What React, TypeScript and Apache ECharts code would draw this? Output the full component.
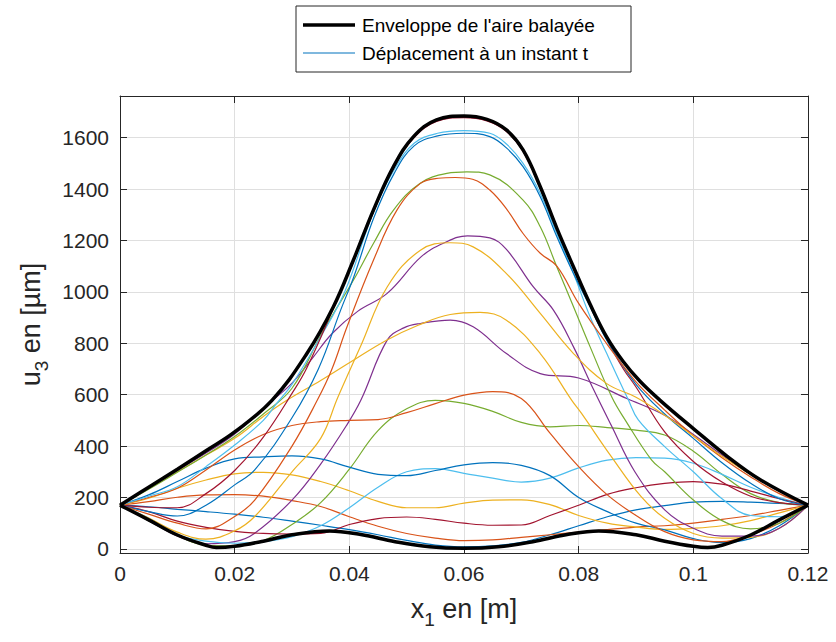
import React, { useEffect, useRef } from "react";
import * as echarts from "echarts";

// x positions (m) shared by the low-amplitude "instant" curves
const xs = [0, 0.005, 0.01, 0.015, 0.02, 0.025, 0.03, 0.035, 0.04, 0.045, 0.05, 0.055, 0.06, 0.065, 0.07, 0.075, 0.08, 0.085, 0.09, 0.095, 0.1, 0.105, 0.11, 0.115, 0.12];

// Envelope of the swept area: [x (m), u3 (µm)]
const envUpper = [[0, 170], [0.005, 240], [0.01, 310], [0.015, 382], [0.02, 455], [0.0265, 578], [0.0326, 760], [0.0372, 941], [0.0407, 1123], [0.0442, 1318], [0.0477, 1487], [0.0512, 1604], [0.0552, 1669], [0.06, 1684], [0.064, 1671], [0.0674, 1630], [0.0703, 1552], [0.0733, 1409], [0.0762, 1247], [0.0791, 1097], [0.082, 952], [0.0849, 824], [0.0878, 728], [0.0907, 652], [0.0942, 578], [0.1, 468], [0.1058, 362], [0.1116, 270], [0.12, 170]];
const envLower = [[0, 170], [0.005, 113], [0.01, 54], [0.015, 14], [0.0168, 5], [0.02, 10], [0.025, 30], [0.03, 55], [0.0365, 70], [0.042, 56], [0.048, 28], [0.054, 8], [0.06, 2], [0.066, 8], [0.072, 28], [0.078, 56], [0.0835, 70], [0.09, 55], [0.095, 30], [0.1, 10], [0.1025, 5], [0.105, 14], [0.11, 54], [0.115, 113], [0.12, 170]];

// Low-amplitude instants (values at xs, µm)
const blueLow = [170, 164, 154, 145, 135, 123, 108, 92, 75, 55, 33, 15, 8, 12, 25, 55, 90, 125, 152, 168, 182, 185, 182, 177, 170];
const orangeLow = [170, 184, 201, 210, 211, 205, 188, 165, 125, 88, 60, 42, 32, 35, 45, 55, 65, 75, 85, 90, 100, 115, 130, 150, 170];
const yellowLow = [170, 197, 236, 268, 292, 298, 288, 262, 226, 185, 160, 160, 178, 190, 191, 172, 130, 100, 85, 76, 80, 90, 110, 140, 170];
const greenMid = [170, 110, 52, 14, 12, 32, 95, 180, 310, 460, 545, 578, 566, 535, 492, 475, 480, 472, 462, 443, 380, 290, 215, 180, 170];
const cyanLow = [170, 120, 55, 30, 22, 28, 48, 90, 160, 240, 300, 312, 294, 275, 260, 275, 315, 345, 355, 353, 333, 290, 240, 200, 170];
const redLow = [170, 145, 108, 84, 68, 60, 58, 60, 95, 118, 124, 115, 100, 92, 93, 130, 170, 212, 238, 255, 262, 252, 225, 195, 170];
const blueMid = [170, 210, 262, 314, 350, 358, 362, 350, 318, 290, 285, 305, 327, 336, 325, 285, 200, 145, 100, 74, 40, 24, 40, 90, 170];
const orangeMid = [170, 200, 236, 307, 385, 445, 480, 495, 500, 503, 530, 565, 598, 612, 585, 450, 320, 210, 130, 67, 35, 28, 55, 100, 170];

// Large-amplitude instants: [x (m), u3 (µm)]
const purpleMid = [[0, 170], [0.005, 110], [0.01, 50], [0.015, 20], [0.02, 28], [0.0235, 61], [0.03, 190], [0.035, 330], [0.0395, 480], [0.042, 578], [0.0466, 812], [0.0495, 860], [0.0524, 877], [0.0576, 890], [0.0616, 864], [0.0674, 760], [0.0733, 682], [0.08, 665], [0.0884, 585], [0.095, 520], [0.1, 445], [0.105, 365], [0.11, 290], [0.115, 225], [0.12, 170]];
const yellowMid = [[0, 170], [0.005, 235], [0.01, 300], [0.015, 365], [0.02, 430], [0.025, 515], [0.0291, 578], [0.035, 655], [0.0407, 734], [0.0465, 812], [0.052, 870], [0.0576, 912], [0.0628, 920], [0.0674, 890], [0.0733, 760], [0.0788, 578], [0.0805, 527], [0.0857, 359], [0.0909, 203], [0.095, 119], [0.1, 60], [0.105, 42], [0.11, 45], [0.115, 80], [0.12, 170]];
const purpleHigh = [[0, 170], [0.005, 236], [0.01, 305], [0.015, 373], [0.02, 447], [0.0262, 570], [0.03, 645], [0.0335, 740], [0.037, 838], [0.0415, 925], [0.0466, 994], [0.0525, 1136], [0.0565, 1190], [0.0606, 1218], [0.0645, 1210], [0.0674, 1165], [0.0721, 1019], [0.0756, 929], [0.0791, 786], [0.0826, 620], [0.0857, 480], [0.0898, 300], [0.095, 152], [0.1, 80], [0.105, 50], [0.11, 50], [0.115, 80], [0.12, 170]];
const greenHigh = [[0, 170], [0.005, 232], [0.01, 298], [0.015, 365], [0.02, 437], [0.025, 525], [0.03, 625], [0.035, 830], [0.0372, 915], [0.0407, 1045], [0.0442, 1188], [0.0477, 1318], [0.0523, 1422], [0.057, 1461], [0.0605, 1467], [0.0645, 1455], [0.0703, 1357], [0.0733, 1253], [0.0762, 1097], [0.0791, 942], [0.082, 786], [0.0858, 590], [0.0881, 502], [0.0927, 346], [0.095, 300], [0.1, 190], [0.105, 110], [0.11, 78], [0.115, 100], [0.12, 170]];
const cyanHigh = [[0, 170], [0.005, 205], [0.01, 242], [0.015, 320], [0.02, 404], [0.025, 500], [0.0273, 565], [0.03, 640], [0.035, 825], [0.0392, 1000], [0.0442, 1310], [0.0478, 1474], [0.0513, 1578], [0.0554, 1617], [0.06, 1627], [0.0645, 1617], [0.0674, 1575], [0.0703, 1500], [0.0733, 1383], [0.0762, 1227], [0.0791, 1071], [0.082, 903], [0.0849, 760], [0.0887, 578], [0.0904, 502], [0.095, 398], [0.1, 300], [0.105, 195], [0.11, 130], [0.115, 125], [0.12, 170]];
const redHigh = [[0, 170], [0.005, 162], [0.01, 160], [0.015, 215], [0.02, 305], [0.025, 435], [0.03, 605], [0.0326, 705], [0.0372, 935], [0.0407, 1117], [0.0442, 1312], [0.0477, 1481], [0.0512, 1598], [0.0552, 1663], [0.06, 1678], [0.064, 1665], [0.0674, 1624], [0.0703, 1546], [0.0733, 1403], [0.0762, 1241], [0.0791, 1091], [0.082, 946], [0.0849, 815], [0.0878, 700], [0.09, 630], [0.095, 455], [0.1, 340], [0.105, 260], [0.11, 205], [0.115, 180], [0.12, 170]];
const blueHigh = [[0, 170], [0.005, 145], [0.01, 128], [0.015, 170], [0.02, 249], [0.0235, 307], [0.03, 510], [0.0346, 700], [0.0385, 930], [0.0408, 1060], [0.0443, 1290], [0.0478, 1460], [0.0513, 1568], [0.0554, 1607], [0.06, 1617], [0.0645, 1604], [0.0674, 1560], [0.0703, 1487], [0.0733, 1370], [0.0762, 1214], [0.0791, 1071], [0.082, 942], [0.0849, 812], [0.09, 640], [0.095, 525], [0.1, 430], [0.105, 335], [0.11, 255], [0.115, 195], [0.12, 170]];
const orangeHigh = [[0, 170], [0.005, 135], [0.01, 100], [0.015, 78], [0.02, 126], [0.0235, 190], [0.03, 400], [0.0344, 578], [0.0369, 696], [0.0396, 864], [0.0442, 1123], [0.0483, 1318], [0.0524, 1422], [0.0555, 1442], [0.0585, 1445], [0.0615, 1438], [0.0645, 1396], [0.0675, 1320], [0.0703, 1227], [0.0733, 1150], [0.0762, 1100], [0.08, 955], [0.085, 795], [0.09, 650], [0.095, 540], [0.1, 440], [0.105, 355], [0.11, 280], [0.115, 215], [0.12, 170]];
const yellowHigh = [[0, 170], [0.005, 120], [0.01, 65], [0.015, 38], [0.02, 70], [0.0235, 126], [0.03, 300], [0.035, 430], [0.038, 590], [0.042, 790], [0.0466, 1019], [0.0524, 1162], [0.0576, 1191], [0.0616, 1175], [0.0674, 1071], [0.0733, 916], [0.0791, 760], [0.0849, 643], [0.09, 590], [0.095, 520], [0.1, 440], [0.105, 360], [0.11, 290], [0.115, 225], [0.12, 170]];

const onGrid = (vals: number[]) => xs.map((x, j) => [x, vals[j]]);

// Plot order (MATLAB colour order cycles through these)
const curves = [
  onGrid(blueLow), onGrid(orangeLow), onGrid(yellowLow), purpleMid, onGrid(greenMid), onGrid(cyanLow), onGrid(redLow),
  onGrid(blueMid), onGrid(orangeMid), yellowMid, purpleHigh, greenHigh, cyanHigh, redHigh,
  blueHigh, orangeHigh, yellowHigh,
];

const palette = ["#0072BD", "#D95319", "#EDB120", "#7E2F8E", "#77AC30", "#4DBEEE", "#A2142F"];
const FONT = '"Liberation Sans", Arial, Helvetica, sans-serif';
const AX = "#262626";

export default function App() {
  const ref = useRef<HTMLDivElement>(null);
  useEffect(() => {
    const chart = echarts.init(ref.current!, null, { renderer: "svg" });
    const lineSeries: any[] = curves.map((c, i) => ({
      type: "line",
      name: "Déplacement à un instant t",
      data: c,
      smooth: 0.4,
      symbol: "none",
      silent: true,
      lineStyle: { color: palette[i % 7], width: 1.2 },
      z: 2,
    }));
    lineSeries.push({
      type: "line",
      name: "Enveloppe",
      data: envUpper,
      smooth: 0.4,
      symbol: "none",
      silent: true,
      lineStyle: { color: "#000", width: 3.5 },
      z: 3,
    });
    lineSeries.push({
      type: "line",
      name: "Enveloppe bas",
      data: envLower,
      smooth: 0.4,
      symbol: "none",
      silent: true,
      lineStyle: { color: "#000", width: 3.5 },
      z: 3,
    });

    const yCommon = {
      type: "value",
      min: -16,
      max: 1762,
      splitNumber: 9,
      minInterval: 200,
      maxInterval: 200,
    };
    const rich = {
      m: { fontSize: 27, fontFamily: FONT, color: AX, lineHeight: 40, verticalAlign: "middle" },
      s: { fontSize: 19, fontFamily: FONT, color: AX, lineHeight: 22, verticalAlign: "bottom" },
    };
    const option: any = {
      animation: false,
      backgroundColor: "#fff",
      grid: { left: 120, right: 28, top: 96, bottom: 89, containLabel: false },
      xAxis: [
        {
          type: "value",
          min: 0,
          max: 0.12,
          interval: 0.02,
          axisLine: { show: true, onZero: false, lineStyle: { color: AX, width: 1 } },
          axisTick: { show: true, inside: true, length: 7, lineStyle: { color: AX } },
          axisLabel: { color: AX, fontSize: 21, fontFamily: FONT, margin: 10 },
          splitLine: { show: true, lineStyle: { color: "#dfdfdf", width: 1 } },
          name: "{m|x}{s|1}{m| en [m]}",
          nameLocation: "middle",
          nameGap: 36,
          nameTextStyle: { rich },
        },
        {
          type: "value",
          min: 0,
          max: 0.12,
          interval: 0.02,
          position: "top",
          axisLine: { show: true, onZero: false, lineStyle: { color: AX, width: 1 } },
          axisTick: { show: true, inside: true, length: 7, lineStyle: { color: AX } },
          axisLabel: { show: false },
          splitLine: { show: false },
        },
      ],
      yAxis: [
        {
          ...yCommon,
          axisLine: { show: true, onZero: false, lineStyle: { color: AX, width: 1 } },
          axisTick: { show: true, inside: true, length: 7, lineStyle: { color: AX } },
          axisLabel: {
            color: AX,
            fontSize: 21,
            fontFamily: FONT,
            margin: 11,
            formatter: (v: number) => (v >= 0 && Math.abs(v % 200) < 1e-6 ? String(v) : ""),
          },
          splitLine: { show: true, lineStyle: { color: "#dfdfdf", width: 1 } },
          name: "{m|u}{s|3}{m| en [µm]}",
          nameLocation: "middle",
          nameRotate: 90,
          nameGap: 66,
          nameTextStyle: { rich },
        },
        {
          ...yCommon,
          position: "right",
          axisLine: { show: true, onZero: false, lineStyle: { color: AX, width: 1 } },
          axisTick: { show: true, inside: true, length: 7, lineStyle: { color: AX } },
          axisLabel: { show: false },
          splitLine: { show: false },
        },
      ],
      series: lineSeries,
      graphic: [
        {
          type: "rect",
          shape: { x: 296, y: 6, width: 335, height: 66 },
          style: { fill: "#fff", stroke: AX, lineWidth: 1 },
          z: 10,
        },
        {
          type: "line",
          shape: { x1: 303, y1: 25, x2: 355, y2: 25 },
          style: { stroke: "#000", lineWidth: 3.5 },
          z: 11,
        },
        {
          type: "text",
          x: 362,
          y: 25,
          style: { text: "Enveloppe de l'aire balayée", font: `19px ${FONT}`, fill: "#000", verticalAlign: "middle" },
          z: 11,
        },
        {
          type: "line",
          shape: { x1: 303, y1: 53, x2: 355, y2: 53 },
          style: { stroke: "#0072BD", lineWidth: 1.2 },
          z: 11,
        },
        {
          type: "text",
          x: 362,
          y: 53,
          style: { text: "Déplacement à un instant t", font: `19px ${FONT}`, fill: "#000", verticalAlign: "middle" },
          z: 11,
        },
      ],
    };
    chart.setOption(option);
    return () => chart.dispose();
  }, []);
  return (
    <div
      ref={ref}
      style={{ position: "fixed", left: 0, top: 0, width: 836, height: 642, background: "#fff" }}
    />
  );
}
